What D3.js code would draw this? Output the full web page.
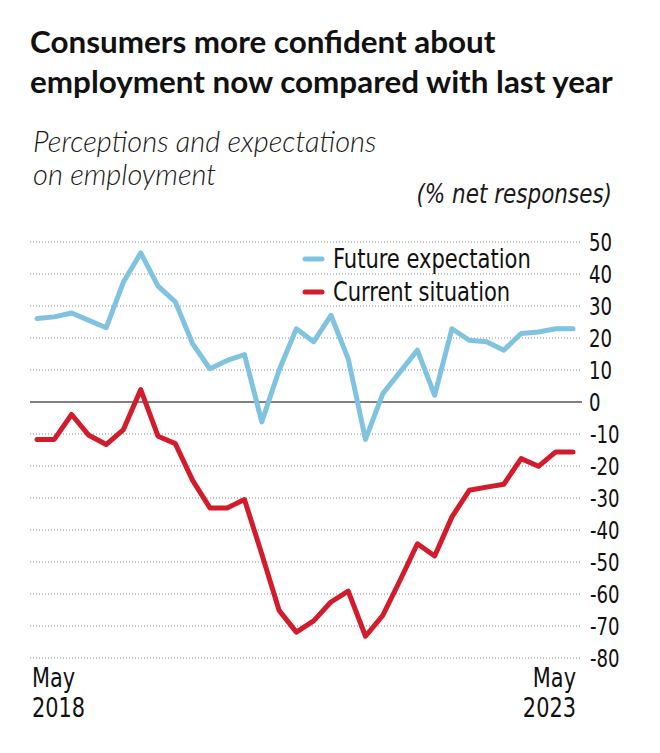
<!DOCTYPE html>
<html>
<head>
<meta charset="utf-8">
<script src="https://cdn.jsdelivr.net/npm/d3@7"></script>
<style>
  body { margin: 0; background: #fff; }
</style>
</head>
<body>
<div id="vis"></div>
<script>
// survey rounds, May 2018 .. May 2023 (only the ends are labelled)
let tickLabels = [['May', '2018'], ['May', '2023']]

// % net responses
let futureExpectation = [26.1, 26.6, 27.8, 25.5, 23.2, 37.5, 46.6, 36.2, 31.3, 18.2,
  10.4, 13.0, 14.8, -6.2, 9.9, 22.9, 18.8, 27.1, 13.5, -11.7,
  2.6, 9.4, 16.2, 2.1, 22.9, 19.3, 18.8, 16.2, 21.4, 21.9, 22.9, 22.9]

let currentSituation = [-11.7, -11.7, -3.9, -10.4, -13.3, -8.6, 3.9, -10.7, -13.0, -24.5,
  -33.1, -33.1, -30.5, -47.5, -65.1, -71.9, -68.4, -62.5, -59.1, -73.2,
  -66.7, -55.7, -44.3, -48.1, -35.9, -27.6, -26.6, -25.7, -17.7, -20.1, -15.6, -15.6]

let yTicks = [50, 40, 30, 20, 10, 0, -10, -20, -30, -40, -50, -60, -70, -80]

let series = [
  { name: 'Future expectation', values: futureExpectation, color: '#80c3e1' },
  { name: 'Current situation', values: currentSituation, color: '#d21c2b' }
]

let width = 660,
  height = 753

let svg = d3.select('#vis')
  .append('svg')
  .attr('width', width)
  .attr('height', height)
  .style('background-color', 'white')

// no condensed font here, so squeeze DejaVu Condensed a bit
let narrow = "'DejaVu Sans Condensed', sans-serif"

function narrowText(parent, px, py, anchor, size, sx) {
  return parent.append('g')
    .attr('transform', `translate(${px},${py}) scale(${sx},1)`)
    .append('text')
    .attr('text-anchor', anchor)
    .attr('font-family', narrow)
    .attr('font-size', size)
    .attr('fill', '#111')
}

// scales
let x = d3.scaleLinear()
  .domain([0, futureExpectation.length - 1])
  .range([37, 573])

let y = d3.scaleLinear()
  .domain([-80, 50])
  .range([658, 242])

// title
let title = svg.append('text')
  .attr('x', 30)
  .attr('font-family', 'Lato, sans-serif')
  .attr('font-weight', 700)
  .attr('font-size', 31.4)
  .attr('fill', '#111')
title.append('tspan').attr('x', 30).attr('y', 53).text('Consumers more confident about')
title.append('tspan').attr('x', 30).attr('y', 93).text('employment now compared with last year')

// subtitle
let sub = svg.append('text')
  .attr('font-family', 'Lato, sans-serif')
  .attr('font-style', 'italic')
  .attr('font-weight', 300)
  .attr('font-size', 29)
  .attr('fill', '#1a1a1a')
sub.append('tspan').attr('x', 33).attr('y', 152).text('Perceptions and expectations')
sub.append('tspan').attr('x', 33).attr('y', 185).text('on employment')

narrowText(svg, 612, 203, 'end', 26, 0.92)
  .attr('font-style', 'italic')
  .attr('fill', '#1a1a1a')
  .text('(% net responses)')

// gridlines
svg.append('g')
  .selectAll('line')
  .data(yTicks.filter(d => d != 0))
  .join('line')
  .attr('x1', 30)
  .attr('x2', 582)
  .attr('y1', d => y(d))
  .attr('y2', d => y(d))
  .attr('stroke', '#8a8a8a')
  .attr('stroke-width', 1)
  .attr('stroke-dasharray', '1,2')

// zero line
svg.append('line')
  .attr('x1', 30)
  .attr('x2', 582)
  .attr('y1', y(0))
  .attr('y2', y(0))
  .attr('stroke', '#555')
  .attr('stroke-width', 1.6)

// y labels on the right
let yAxis = svg.append('g')
yTicks.forEach(d => {
  narrowText(yAxis, d < 0 ? 590 : 589, y(d), 'start', 24, 0.84)
    .attr('dy', '0.36em')
    .text(d)
})

// x labels
tickLabels.forEach((d, i) => {
  let px = i == 0 ? 32 : 576
  let anchor = i == 0 ? 'start' : 'end'
  narrowText(svg, px, 687, anchor, 27, 0.86).text(d[0])
  narrowText(svg, px, 717, anchor, 27, 0.86).text(d[1])
})

// lines
let line = d3.line()
  .x((d, i) => x(i))
  .y(d => y(d))

svg.append('g')
  .selectAll('path')
  .data(series)
  .join('path')
  .attr('d', d => line(d.values))
  .attr('fill', 'none')
  .attr('stroke', d => d.color)
  .attr('stroke-width', 5)
  .attr('stroke-linejoin', 'round')
  .attr('stroke-linecap', 'round')

// legend
let legend = svg.append('g')
series.forEach((d, i) => {
  let ly = 259 + i * 33
  legend.append('line')
    .attr('x1', 305)
    .attr('x2', 322)
    .attr('y1', ly)
    .attr('y2', ly)
    .attr('stroke', d.color)
    .attr('stroke-width', 5)
    .attr('stroke-linecap', 'round')
  narrowText(legend, 333, ly, 'start', 26, 0.9)
    .attr('dy', '0.36em')
    .text(d.name)
})
</script>
</body>
</html>
